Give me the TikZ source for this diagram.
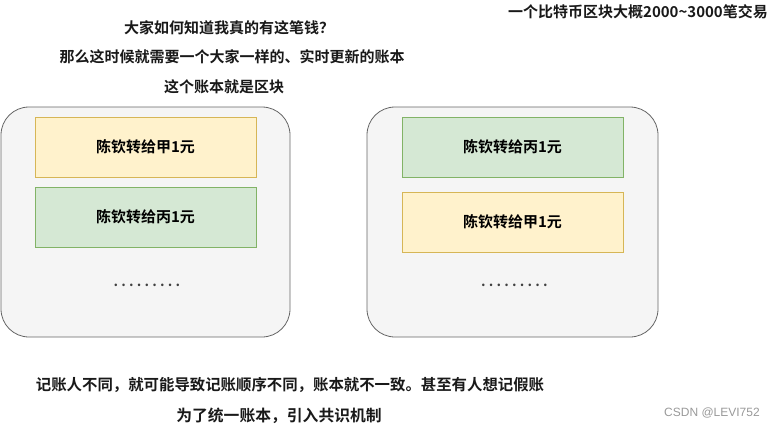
\documentclass[tikz,border=0pt]{standalone}
\usepackage{fontspec}
\setmainfont{Noto Sans CJK SC}[BoldFont={* Bold}]
\newfontfamily\wmfont{Liberation Sans}
\definecolor{contfill}{HTML}{F5F5F5}
\definecolor{contline}{HTML}{666666}
\definecolor{yelfill}{HTML}{FFF2CC}
\definecolor{yelline}{HTML}{D6B656}
\definecolor{grnfill}{HTML}{D5E8D4}
\definecolor{grnline}{HTML}{82B366}
\definecolor{wmgrey}{HTML}{999999}
\tikzset{
  container/.style={draw=contline, fill=contfill, rounded corners=28pt, line width=0.8pt},
  txbox/.style={line width=0.8pt, font=\fontsize{15pt}{18pt}\selectfont\bfseries},
  yelbox/.style={txbox, draw=yelline, fill=yelfill},
  grnbox/.style={txbox, draw=grnline, fill=grnfill},
  caption/.style={font=\fontsize{15pt}{18pt}\selectfont\bfseries, inner sep=0pt, text=black!90},
  bigcaption/.style={font=\fontsize{15.8pt}{18pt}\selectfont\bfseries, inner sep=0pt, text=black!90},
  dotrow/.style={font=\fontsize{14pt}{16pt}\selectfont\bfseries, inner sep=0pt, text=black!75},
}
\newcommand{\dotline}{.\kern3.2pt.\kern3.2pt.\kern3.2pt.\kern3.2pt.\kern3.2pt.\kern3.2pt.\kern3.2pt.\kern3.2pt.}
\begin{document}
\begin{tikzpicture}[x=1pt,y=-1pt]
\useasboundingbox (0,0) rectangle (774,428);
% containers
\path[container] (1,107) rectangle (290,337);
\node[inner sep=0pt, minimum width=289pt, minimum height=230pt] (contL) at (145.5,222) {};
\path[container] (367,107) rectangle (658,337);
\node[inner sep=0pt, minimum width=291pt, minimum height=230pt] (contR) at (512.5,222) {};
% left boxes
\node[yelbox, minimum width=221pt, minimum height=60pt] (l1) at (145.5,147) {陈钦转给甲1元};
\node[grnbox, minimum width=221pt, minimum height=60pt] (l2) at (145.5,217) {陈钦转给丙1元};
\node[dotrow] (ldots) at (147,285) {\dotline};
% right boxes
\node[grnbox, minimum width=221pt, minimum height=60pt] (r1) at (512.5,147) {陈钦转给丙1元};
\node[yelbox, minimum width=221pt, minimum height=60pt] (r2) at (512.5,222) {陈钦转给甲1元};
\node[dotrow] (rdots) at (514.5,285) {\dotline};
% captions
\node[caption] (t1) at (229,28) {大家如何知道我真的有这笔钱？};
\node[caption] (t2) at (232,57) {那么这时候就需要一个大家一样的、实时更新的账本};
\node[caption] (t3) at (224,87) {这个账本就是区块};
\node[caption] (tr) at (638,12) {一个比特币区块大概2000\textasciitilde3000笔交易};
\node[bigcaption, font=\fontsize{15.4pt}{18pt}\selectfont\bfseries] (b1) at (290,385) {记账人不同，就可能导致记账顺序不同，账本就不一致。甚至有人想记假账};
\node[bigcaption] (b2) at (279,416) {为了统一账本，引入共识机制};
\node[font=\wmfont\fontsize{12pt}{14pt}\selectfont, text=wmgrey, inner sep=0pt] (wm) at (712,413) {CSDN @LEVI752};
\end{tikzpicture}
\end{document}
